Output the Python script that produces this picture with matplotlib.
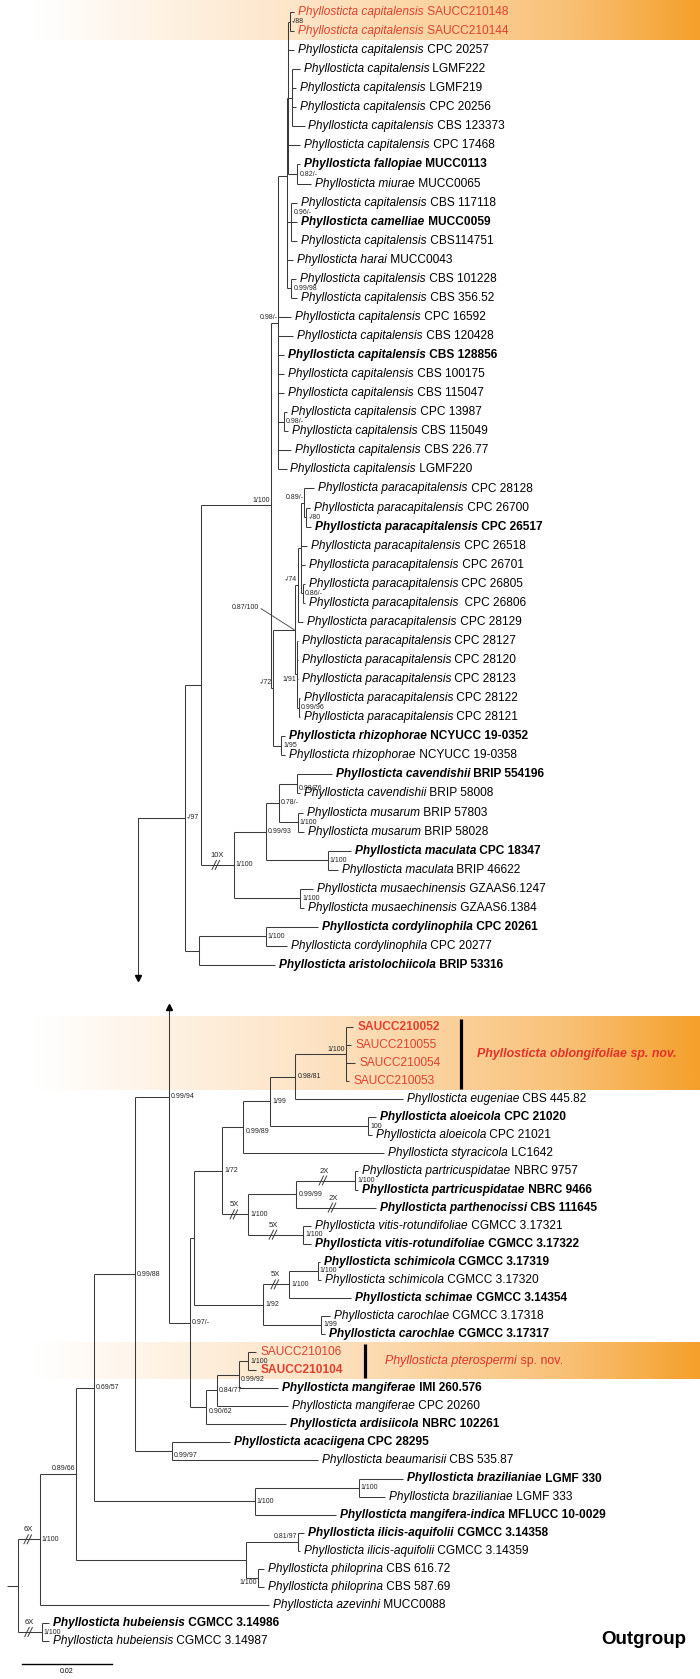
import matplotlib
matplotlib.use('Agg')
import matplotlib.pyplot as plt
import numpy as np
from matplotlib.colors import LinearSegmentedColormap

plt.rcParams['font.family'] = ['Liberation Sans', 'DejaVu Sans']

# ---------------------------------------------------------------- data
GENUS = 'Phyllosticta'

top_species = (['capitalensis'] * 8 + ['fallopiae', 'miurae', 'capitalensis', 'camelliae',
               'capitalensis', 'harai'] + ['capitalensis'] * 11 + ['paracapitalensis'] * 13 +
               ['rhizophorae'] * 2 + ['cavendishii'] * 2 + ['musarum'] * 2 + ['maculata'] * 2 +
               ['musaechinensis'] * 2 + ['cordylinophila'] * 2 + ['aristolochiicola'])
top_strains = ['SAUCC210148', 'SAUCC210144', 'CPC 20257', 'LGMF222', 'LGMF219', 'CPC 20256',
               'CBS 123373', 'CPC 17468', 'MUCC0113', 'MUCC0065', 'CBS 117118', 'MUCC0059',
               'CBS114751', 'MUCC0043', 'CBS 101228', 'CBS 356.52', 'CPC 16592', 'CBS 120428',
               'CBS 128856', 'CBS 100175', 'CBS 115047', 'CPC 13987', 'CBS 115049', 'CBS 226.77',
               'LGMF220', 'CPC 28128', 'CPC 26700', 'CPC 26517', 'CPC 26518', 'CPC 26701',
               'CPC 26805', ' CPC 26806', 'CPC 28129', 'CPC 28127', 'CPC 28120', 'CPC 28123',
               'CPC 28122', 'CPC 28121', 'NCYUCC 19-0352', 'NCYUCC 19-0358', 'BRIP 554196',
               'BRIP 58008', 'BRIP 57803', 'BRIP 58028', 'CPC 18347', 'BRIP 46622',
               'GZAAS6.1247', 'GZAAS6.1384', 'CPC 20261', 'CPC 20277', 'BRIP 53316']
top_bold = [8, 11, 18, 27, 38, 40, 44, 48, 50]
top_red = [0, 1]

bot_species = ['', '', '', '', 'eugeniae', 'aloeicola', 'aloeicola', 'styracicola',
               'partricuspidatae', 'partricuspidatae', 'parthenocissi', 'vitis-rotundifoliae',
               'vitis-rotundifoliae', 'schimicola', 'schimicola', 'schimae', 'carochlae',
               'carochlae', '', '', 'mangiferae', 'mangiferae', 'ardisiicola', 'acaciigena',
               'beaumarisii', 'brazilianiae', 'brazilianiae', 'mangifera-indica',
               'ilicis-aquifolii', 'ilicis-aquifolii', 'philoprina', 'philoprina', 'azevinhi',
               'hubeiensis', 'hubeiensis']
bot_strains = ['SAUCC210052', 'SAUCC210055', 'SAUCC210054', 'SAUCC210053', 'CBS 445.82',
               'CPC 21020', 'CPC 21021', 'LC1642', 'NBRC 9757', 'NBRC 9466', 'CBS 111645',
               'CGMCC 3.17321', 'CGMCC 3.17322', 'CGMCC 3.17319', 'CGMCC 3.17320',
               'CGMCC 3.14354', 'CGMCC 3.17318', 'CGMCC 3.17317', 'SAUCC210106', 'SAUCC210104',
               'IMI 260.576', 'CPC 20260', 'NBRC 102261', 'CPC 28295', 'CBS 535.87', 'LGMF 330',
               'LGMF 333', 'MFLUCC 10-0029', 'CGMCC 3.14358', 'CGMCC 3.14359', 'CBS 616.72',
               'CBS 587.69', 'MUCC0088', 'CGMCC 3.14986', 'CGMCC 3.14987']
bot_bold = [0, 5, 9, 10, 12, 13, 15, 17, 19, 20, 22, 23, 25, 27, 28, 33]
bot_red = [0, 1, 2, 3, 18, 19]

clade_names = [('Phyllosticta oblongifoliae', ' sp. nov.'), ('Phyllosticta pterospermi', ' sp. nov.')]
clade_tips = [(0, 3), (18, 19)]       # bottom-tip index ranges of the new species
scale_value = 0.02


# tree builders: branch lengths in substitutions / site
def tip(i, bl, brk=''):
    return {'tip': i, 'bl': bl, 'brk': brk}


def node(bl, kids, sup='', pos='r', brk=''):
    return {'bl': bl, 'kids': kids, 'sup': sup, 'pos': pos, 'brk': brk}


ARROW = {'arrow': True, 'bl': 0.0, 'brk': ''}

# ---- upper part (Phyllosticta capitalensis complex and relatives)
cap_sub1 = node(0.0004, [
    node(0.0004, [tip(0, 0.0009), tip(1, 0.0009)], '-/88'),
    tip(2, 0.0013),
    node(0.0009, [tip(3, 0.0016), tip(4, 0.0009), tip(5, 0.0009), tip(6, 0.0027)], ''),
    tip(7, 0.0027),
    node(0.0020, [tip(8, 0.0007), tip(9, 0.0031)], '0.82/-'),
], '')
cap_sub2 = node(0.0002, [
    node(0.0009, [tip(10, 0.0013), tip(11, 0.0013), tip(12, 0.0013)], '0.96/-', 'ra'),
    tip(13, 0.0013),
    node(0.0009, [tip(14, 0.0011), tip(15, 0.0013)], '0.99/98'),
], '')
cap_clade = node(0.0016, [
    node(0.0018, [cap_sub1, cap_sub2], ''),
    tip(16, 0.0029), tip(17, 0.0033), tip(18, 0.0013), tip(19, 0.0013),
    tip(20, 0.0013), node(0.0013, [tip(21, 0.0007), tip(22, 0.0009)], '0.98/-'),
    tip(23, 0.0029), tip(24, 0.0018),
], '0.98/-', 'l')
para_clade = node(0.0049, [
    node(0.0007, [
        node(0.0007, [
            node(0.0007, [tip(25, 0.0022),
                          node(0.0004, [tip(26, 0.0009), tip(27, 0.0011)], '-/80')], '0.89/-', 'l'),
            tip(28, 0.0013), tip(29, 0.0009),
            node(0.0004, [tip(30, 0.0004), tip(31, 0.0004)], '0.86/-'),
        ], ''),
        tip(32, 0.0011),
    ], '-/74', 'l'),
    node(0.0004, [
        tip(33, 0.0002), tip(34, 0.0002), tip(35, 0.0002),
        node(0.0004, [tip(36, 0.0002), tip(37, 0.0002)], '0.99/96'),
    ], '1/91', 'lb'),
], '0.87/100', 'lead')
rhiz_clade = node(0.0018, [tip(38, 0.0009), tip(39, 0.0009)], '1/95')
n1_clade = node(0.0156, [cap_clade, node(0.0004, [para_clade, rhiz_clade], '-/72', 'l')], '1/100', 'l')
musa_clade = node(0.0073, [
    node(0.0071, [
        node(0.0029, [
            node(0.0040, [tip(40, 0.0078), tip(41, 0.0007)], '0.98/76', 'rb'),
            node(0.0042, [tip(42, 0.0011), tip(43, 0.0013)], '1/100'),
        ], '0.78/-'),
        node(0.0138, [tip(44, 0.0051), tip(45, 0.0022)], '1/100'),
    ], '0.99/93'),
    node(0.0147, [tip(46, 0.0029), tip(47, 0.0009)], '1/100'),
], '1/100', brk='10X')
cord_clade = node(0.0031, [
    node(0.0149, [tip(48, 0.0116), tip(49, 0.0047)], '1/100'),
    tip(50, 0.0169),
], '')
top_tree = node(0.0104, [node(0.0036, [n1_clade, musa_clade], ''), cord_clade], '-/97')

# ---- lower part
oblong_clade = node(0.0113, [tip(0, 0.0016), tip(1, 0.0011), tip(2, 0.0020), tip(3, 0.0007)], '1/100', 'l')
n1_99 = node(0.0060, [node(0.0056, [oblong_clade, tip(4, 0.0238)], '0.98/81'),
                      node(0.0218, [tip(5, 0.0018), tip(6, 0.0007)], '100')], '1/99')
n099_89 = node(0.0047, [n1_99, tip(7, 0.0313)], '0.99/89', 'rb')
n099_99 = node(0.0107, [node(0.0131, [tip(8, 0.0007), tip(9, 0.0007)], '1/100', brk='2X'),
                        tip(10, 0.0176, brk='2X')], '0.99/99')
vitis_clade = node(0.0122, [tip(11, 0.0018), tip(12, 0.0018)], '1/100', brk='5X')
n1_72 = node(0.0062, [n099_89, node(0.0058, [n099_99, vitis_clade], '1/100', brk='5X')], '1/72')
n1_92 = node(0.0153, [
    node(0.0058, [node(0.0064, [tip(13, 0.0004), tip(14, 0.0007)], '1/100'), tip(15, 0.0138)],
         '1/100', brk='5X'),
    node(0.0129, [tip(16, 0.0020), tip(17, 0.0009)], '1/99'),
], '1/92')
mang_clade = node(0.0036, [
    node(0.0024, [
        node(0.0049, [node(0.0020, [tip(18, 0.0018), tip(19, 0.0018)], '1/100'), tip(20, 0.0087)],
             '0.99/92', 'rb'),
        tip(21, 0.0158)], '0.84/77'),
    tip(22, 0.0178)], '0.90/62', 'rb')
n097 = node(0.0047, [node(0.0009, [n1_72, n1_92], ''), mang_clade], '0.97/-')
n099_88 = node(0.0091, [node(0.0076, [ARROW, n097], '0.99/94'),
                        node(0.0082, [tip(23, 0.0129), tip(24, 0.0324)], '0.99/97', 'rb')], '0.99/88')
braz_clade = node(0.0358, [node(0.0231, [tip(25, 0.0098), tip(26, 0.0058)], '1/100'),
                           tip(27, 0.0180)], '1/100')
ilex_clade = node(0.0378, [node(0.0116, [tip(28, 0.0013), tip(29, 0.0004)], '0.81/97', 'l'),
                           node(0.0027, [tip(30, 0.0013), tip(31, 0.0013)], '1/100', 'lb')], '')
bottom_tree = node(0.0024, [
    node(0.0049, [node(0.0080, [node(0.0040, [n099_88, braz_clade], '0.69/57'), ilex_clade],
                       '0.89/66', 'l'),
                  tip(32, 0.0509)], '1/100', brk='6X'),
    node(0.0053, [tip(33, 0.0016), tip(34, 0.0016)], '1/100', brk='6X'),
], '')

# ---------------------------------------------------------------- layout / style
W, H = 700, 1679
S = 4500.0                     # pixels per substitution/site
TOP_X0, BOT_X0 = 138, 7
TOP_Y0, TOP_DY = 12.0, 19.06
BOT_Y0, BOT_DY = 1027.0, 18.06
ARROW_VIRTUAL_Y = 871.0
ARROW_DOWN_END = 978
ARROW_UP_END = 1007
LC = '#3a3a3a'
LW = 0.75
FS = 8.6
SFS = 5.0
RED = '#e0412f'
RED2 = '#e4322a'

fig = plt.figure(figsize=(W / 100, H / 100), dpi=100)
ax = fig.add_axes([0, 0, 1, 1])
ax.set_xlim(0, W)
ax.set_ylim(H, 0)
ax.axis('off')

# highlight bands
cmap = LinearSegmentedColormap.from_list('band', [(0, '#ffffff'), (0.05, '#ffffff'),
                                                  (0.45, '#fde3c4'), (0.8, '#f9c27a'),
                                                  (1.0, '#f5a02c')])
grad = np.linspace(0, 1, 512)[None, :]
for y0, y1 in [(0, 40), (1016, 1090), (1342, 1379)]:
    ax.imshow(grad, extent=[0, W, y1, y0], cmap=cmap, aspect='auto', zorder=0,
              interpolation='bilinear')


def do_layout(nd, xp, tipy):
    nd['px'] = xp
    nd['x'] = xp + nd['bl'] * S
    if 'tip' in nd:
        nd['y'] = tipy(nd['tip'])
    elif 'arrow' in nd:
        nd['y'] = ARROW_VIRTUAL_Y
    else:
        for k in nd['kids']:
            do_layout(k, nd['x'], tipy)
        nd['y'] = (nd['kids'][0]['y'] + nd['kids'][-1]['y']) / 2.0


def draw_break(nd, label):
    bx = nd['px'] + 0.45 * (nd['x'] - nd['px'])
    y = nd['y']
    for k in (-1.6, 1.6):
        ax.plot([bx + k - 2.2, bx + k + 2.2], [y + 4.5, y - 4.5], color=LC, lw=0.7, zorder=3)
    ax.text(bx + 1, y - 6, label, fontsize=5.5, ha='center', va='bottom', color='#222222')


def support(nd):
    s = nd.get('sup', '')
    if not s:
        return
    x, y, p = nd['x'], nd['y'], nd['pos']
    kw = dict(fontsize=SFS, color='#222222', zorder=4)
    if p == 'r':
        ax.text(x + 2, y, s, ha='left', va='center', **kw)
    elif p == 'ra':
        ax.text(x + 2, y - 9.5, s, ha='left', va='center', **kw)
    elif p == 'rb':
        ax.text(x + 2, y + 1, s, ha='left', va='top', **kw)
    elif p == 'l':
        ax.text(x - 1, y - 1.5, s, ha='right', va='bottom', **kw)
    elif p == 'lb':
        ax.text(x - 1, y + 1.5, s, ha='right', va='top', **kw)
    elif p == 'lead':
        ax.text(x - 36, y - 22, s, ha='right', va='center', **kw)
        ax.plot([x - 34, x - 1], [y - 21, y], color=LC, lw=0.6)


def tip_label(x, y, species, strain, bold, red):
    color = RED if red else 'black'
    wt = 'bold' if bold else 'normal'
    if species:
        t1 = ax.text(x, y, GENUS + ' ' + species, style='italic', weight=wt, color=color,
                     fontsize=FS, ha='left', va='center')
        ax.annotate(' ' + strain, xy=(1, 0), xycoords=t1, ha='left', va='bottom',
                    fontsize=FS, weight=wt, color=color)
    else:
        ax.text(x, y, strain, weight=wt, color=color, fontsize=FS, ha='left', va='center')


def draw_tree(nd, species, strains, bold, red):
    ax.plot([nd['px'], nd['x']], [nd['y'], nd['y']], color=LC, lw=LW, solid_capstyle='butt')
    if nd.get('brk'):
        draw_break(nd, nd['brk'])
    if 'tip' in nd:
        i = nd['tip']
        tip_label(nd['x'] + 4, nd['y'], species[i], strains[i], i in bold, i in red)
        return
    ys = []
    for k in nd['kids']:
        if 'arrow' in k:
            ys.append(ARROW_UP_END)
            ax.plot(nd['x'], ARROW_UP_END, marker='^', ms=4, color='black', zorder=5)
        else:
            ys.append(k['y'])
            draw_tree(k, species, strains, bold, red)
    ax.plot([nd['x'], nd['x']], [min(ys), max(ys)], color=LC, lw=LW, solid_capstyle='butt')
    support(nd)


do_layout(top_tree, TOP_X0, lambda i: TOP_Y0 + TOP_DY * i)
do_layout(bottom_tree, BOT_X0, lambda i: BOT_Y0 + BOT_DY * i)
draw_tree(top_tree, top_species, top_strains, top_bold, top_red)
draw_tree(bottom_tree, bot_species, bot_strains, bot_bold, bot_red)

# connecting arrow of the upper part
ax.plot([TOP_X0, TOP_X0], [top_tree['y'], ARROW_DOWN_END], color=LC, lw=LW)
ax.plot(TOP_X0, ARROW_DOWN_END, marker='v', ms=4, color='black', zorder=5)

# new species bars and names
bar_x = [461, 365]
name_x = [477, 385]
for (a, b), (sp, nov), bx, nx, bold_nov in zip(clade_tips, clade_names, bar_x, name_x, [True, False]):
    ya, yb = BOT_Y0 + BOT_DY * a, BOT_Y0 + BOT_DY * b
    ax.plot([bx, bx], [ya - 8, yb + 8], color='black', lw=2.3, solid_capstyle='butt')
    ym = (ya + yb) / 2
    t1 = ax.text(nx, ym, sp, style='italic', weight='bold' if bold_nov else 'normal',
                 color=RED2, fontsize=FS + 0.3, ha='left', va='center')
    ax.annotate(nov, xy=(1, 0), xycoords=t1, ha='left', va='bottom', fontsize=FS + 0.3,
                style='italic' if bold_nov else 'normal',
                weight='bold' if bold_nov else 'normal', color=RED2)

ax.text(686, 1640, 'Outgroup', fontsize=13.5, weight='bold', ha='right', va='center')

# scale bar
sx0, sy = 22, 1664
ax.plot([sx0, sx0 + scale_value * S], [sy, sy], color='black', lw=1.0)
ax.text(sx0 + scale_value * S / 2, sy + 4, '%.2f' % scale_value, fontsize=SFS, ha='center', va='top')

fig.savefig('out.png', dpi=100)
